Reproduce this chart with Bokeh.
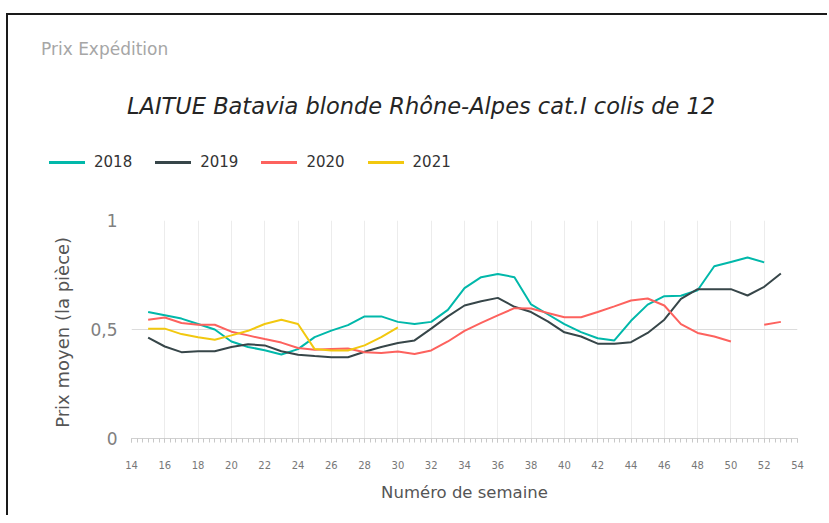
import numpy as np
from bokeh.plotting import figure
from bokeh.layouts import column
from bokeh.models import (ColumnDataSource, Div, FixedTicker, SingleIntervalTicker, Range1d)
from bokeh.embed import file_html
from bokeh.resources import INLINE

nan = float("nan")

weeks = list(range(15, 54))

prix_2018 = [0.58, 0.565, 0.55, 0.525, 0.50, 0.445, 0.42, 0.405, 0.385, 0.41,
             0.465, 0.495, 0.52, 0.56, 0.56, 0.535, 0.525, 0.535, 0.59, 0.69,
             0.74, 0.755, 0.74, 0.615, 0.57, 0.525, 0.488, 0.46, 0.45, 0.54,
             0.614, 0.653, 0.655, 0.68, 0.79, 0.81, 0.83, 0.808, nan]
prix_2019 = [0.463, 0.422, 0.396, 0.40, 0.40, 0.42, 0.432, 0.427, 0.40, 0.384,
             0.378, 0.373, 0.373, 0.398, 0.42, 0.438, 0.45, 0.504, 0.56, 0.61,
             0.63, 0.645, 0.604, 0.58, 0.537, 0.487, 0.468, 0.435, 0.435, 0.442,
             0.484, 0.545, 0.64, 0.685, 0.685, 0.685, 0.656, 0.696, 0.757]
prix_2020 = [0.545, 0.555, 0.53, 0.522, 0.522, 0.49, 0.473, 0.456, 0.44, 0.415,
             0.407, 0.41, 0.413, 0.396, 0.392, 0.399, 0.388, 0.404, 0.445, 0.494,
             0.53, 0.565, 0.598, 0.596, 0.576, 0.556, 0.556, 0.58, 0.606, 0.633,
             0.642, 0.61, 0.525, 0.484, 0.468, 0.445, nan, 0.522, 0.535]
prix_2021 = [0.504, 0.504, 0.479, 0.464, 0.453, 0.473, 0.494, 0.525, 0.545, 0.525,
             0.41, 0.404, 0.404, 0.427, 0.465, 0.51] + [nan] * 23

series_names = ["2018", "2019", "2020", "2021"]
series_values = [prix_2018, prix_2019, prix_2020, prix_2021]
series_colors = ["#01B8AA", "#374649", "#FD625E", "#F2C80F"]

y_ticks = [0, 0.5, 1]
y_tick_labels = {0: "0", 0.5: "0,5", 1: "1"}

header_text = "Prix Expédition"
title_text = "LAITUE Batavia blonde Rhône-Alpes cat.I colis de 12"

FONT = "DejaVu Sans"

# ---------------- header (source label, title, legend) ----------------
legend_html = "".join(
    f'<span style="display:inline-flex;align-items:center;margin-right:23px;">'
    f'<span style="display:inline-block;width:36px;height:3px;background:{c};margin-right:9px;"></span>'
    f'<span>{n}</span></span>'
    for n, c in zip(series_names, series_colors))

header_html = f"""
<div style="position:relative;width:827px;height:200px;font-family:'{FONT}';">
 <div style="position:absolute;left:6px;top:13px;width:821px;height:187px;box-sizing:border-box;
             border-top:2px solid #1a1a1a;border-left:2px solid #1a1a1a;background:white;">
  <div style="position:absolute;left:33px;top:24px;line-height:20px;font-size:17px;
              color:#a6a6a6;white-space:nowrap;">{header_text}</div>
  <div style="position:absolute;left:119px;top:77px;line-height:28px;font-size:22.5px;
              font-style:italic;color:#252525;white-space:nowrap;">{title_text}</div>
  <div style="position:absolute;left:41px;top:137px;line-height:20px;font-size:15px;
              color:#333333;white-space:nowrap;display:flex;align-items:center;">{legend_html}</div>
 </div>
</div>
"""
header = Div(text=header_html, width=827, height=200, margin=0)

# ---------------- chart ----------------
p = figure(width=813, height=315, output_backend="svg", toolbar_location=None,
           x_range=Range1d(14, 54), y_range=Range1d(0, 1),
           min_border_left=123, min_border_right=24, min_border_top=20,
           min_border_bottom=77, margin=(0, 0, 0, 6))
p.outline_line_color = None
p.background_fill_color = "white"
p.border_fill_color = "white"

src = ColumnDataSource(dict(week=weeks, **{f"y{n}": v for n, v in zip(series_names, series_values)}))
for name, color in zip(series_names, series_colors):
    p.line("week", f"y{name}", source=src, line_color=color, line_width=2)

p.xaxis.ticker = SingleIntervalTicker(interval=2, num_minor_ticks=6)
p.xaxis.axis_line_color = "#d0d0d0"
p.xaxis.major_tick_line_color = "#c8c8c8"
p.xaxis.minor_tick_line_color = "#c8c8c8"
p.xaxis.major_tick_in = 0
p.xaxis.major_tick_out = 4
p.xaxis.minor_tick_in = 0
p.xaxis.minor_tick_out = 4
p.xaxis.major_label_standoff = 18
p.xaxis.major_label_text_font = FONT
p.xaxis.major_label_text_font_size = "10px"
p.xaxis.major_label_text_color = "#777777"
p.xaxis.axis_label = "Numéro de semaine"
p.xaxis.axis_label_text_font = FONT
p.xaxis.axis_label_text_font_size = "16.5px"
p.xaxis.axis_label_text_font_style = "normal"
p.xaxis.axis_label_text_color = "#555555"
p.xaxis.axis_label_standoff = 11

p.yaxis.ticker = FixedTicker(ticks=y_ticks)
p.yaxis.major_label_overrides = y_tick_labels
p.yaxis.axis_line_color = None
p.yaxis.major_tick_line_color = None
p.yaxis.minor_tick_line_color = None
p.yaxis.major_tick_out = 0
p.yaxis.major_tick_in = 0
p.yaxis.major_label_standoff = 14
p.yaxis.major_label_text_font = FONT
p.yaxis.major_label_text_font_size = "17px"
p.yaxis.major_label_text_color = "#808080"
p.yaxis.axis_label = "Prix moyen  (la pièce)"
p.yaxis.axis_label_text_font = FONT
p.yaxis.axis_label_text_font_size = "18px"
p.yaxis.axis_label_text_font_style = "normal"
p.yaxis.axis_label_text_color = "#555555"
p.yaxis.axis_label_standoff = 14

p.xgrid.ticker = SingleIntervalTicker(interval=2)
p.xgrid.grid_line_color = "#ececec"
p.ygrid.grid_line_color = "#dcdcdc"

p.styles = {"border-left": "2px solid #1a1a1a"}

layout = column(header, p, spacing=0, margin=0)

open("out.html", "w").write(file_html(layout, INLINE))
